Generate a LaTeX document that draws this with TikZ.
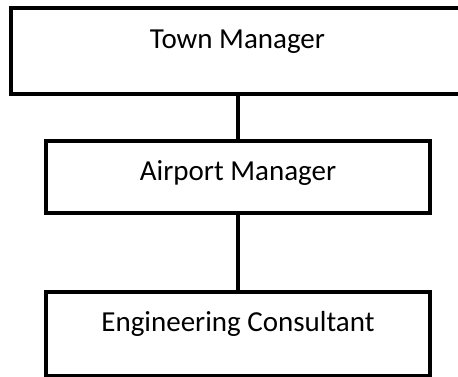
\documentclass[tikz,border=0pt]{standalone}
\usepackage{fontspec}
\setmainfont{Carlito}
\usepackage{tikz}
\usetikzlibrary{positioning}

\begin{document}
\begin{tikzpicture}[x=1pt, y=1pt]
    \tikzstyle{post}=[rectangle, draw=black, line width=3.5pt, fill=white,
            inner sep=0pt, text height=40pt, anchor=north,
            font=\fontsize{29}{34}\selectfont]
    \tikzstyle{link}=[draw=black, line width=3.5pt]

        \useasboundingbox (0,0) rectangle (458,376);

        % the top box runs off the right side of the page
        \node[post, minimum width=460pt, text depth=45.5pt] (town) at (241,369.5)
            {\hspace*{-7pt}Town Manager};
        \node[post, minimum width=384pt, text depth=32pt] (airport) at (238,237)
            {Airport Manager};
        \node[post, minimum width=384pt, text depth=44pt] (consultant) at (238,86)
            {Engineering Consultant};

        \draw[link] (airport.north) -- (airport.north |- town.south);
        \draw[link] (airport.south) -- (consultant.north);
    \end{tikzpicture}
\end{document}
